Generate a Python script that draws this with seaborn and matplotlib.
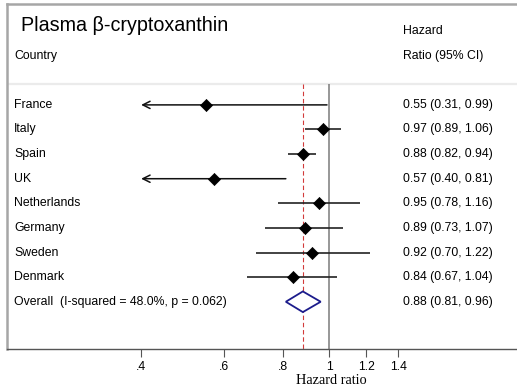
import numpy as np
import pandas as pd
import matplotlib
matplotlib.use("Agg")
import matplotlib.pyplot as plt
import seaborn as sns

# Country-specific hazard ratios with 95% confidence intervals
countries = ["France", "Italy", "Spain", "UK", "Netherlands", "Germany", "Sweden", "Denmark"]
hr = [0.55, 0.97, 0.88, 0.57, 0.95, 0.89, 0.92, 0.84]
ci_low = [0.31, 0.89, 0.82, 0.40, 0.78, 0.73, 0.70, 0.67]
ci_high = [0.99, 1.06, 0.94, 0.81, 1.16, 1.07, 1.22, 1.04]

# Pooled estimate
overall_label = "Overall  (I-squared = 48.0%, p = 0.062)"
overall_hr = 0.88
overall_low = 0.81
overall_high = 0.96

xticks = [0.4, 0.6, 0.8, 1.0, 1.2, 1.4]
xtick_labels = [".4", ".6", ".8", "1", "1.2", "1.4"]
x_min_shown = 0.4

sns.set_theme(style="white")
plt.rcParams["font.family"] = ["Liberation Sans", "DejaVu Sans"]
plt.rcParams["text.color"] = "black"
plt.rcParams["xtick.color"] = "#555555"
plt.rcParams["xtick.labelcolor"] = "black"

W, H = 517, 385
fig = plt.figure(figsize=(W / 100, H / 100), dpi=100)
ax = fig.add_axes([7 / W, (H - 349) / H, (W - 7) / W, (349 - 4) / H])
ax.set_xscale("log")
ax.set_xlim(0.208, 2.50)
y_bottom, y_upper = 9.92, -4.10
ax.set_ylim(y_bottom, y_upper)

df = pd.DataFrame({"country": countries, "hr": hr, "low": ci_low, "high": ci_high})
df["row"] = np.arange(len(df))
n = len(df)

y_sep = -0.85
# reference line at no effect and dashed line at the pooled estimate
ax.vlines(1.0, y_sep, y_bottom, color="#7a7a7a", lw=1.1, zorder=1)
ax.vlines(overall_hr, y_sep, y_bottom, color="#d23a3a", lw=0.8, linestyles=(0, (4, 2.5)), zorder=1)
ax.hlines(y_sep, 0.208, 2.50, color="#ebebeb", lw=1.6, zorder=0)

# confidence intervals, clipped at the axis minimum with an arrow
for _, r in df.iterrows():
    if r["low"] <= x_min_shown:
        ax.annotate("", xy=(x_min_shown, r["row"]), xytext=(r["high"], r["row"]),
                    arrowprops=dict(arrowstyle="->", lw=1.1, color="#111111",
                                    shrinkA=0, shrinkB=0, mutation_scale=13))
    else:
        ax.hlines(r["row"], r["low"], r["high"], color="#222222", lw=1.2, zorder=2)

sns.scatterplot(data=df, x="hr", y="row", marker="D", s=38, color="black",
                edgecolor="black", linewidth=0.5, ax=ax, zorder=3, legend=False)

# pooled diamond
yo = n
diamond = plt.Polygon([[overall_low, yo], [overall_hr, yo - 0.42],
                       [overall_high, yo], [overall_hr, yo + 0.42]],
                      closed=True, facecolor="white", edgecolor="#1c1c8c", lw=1.3, zorder=3)
ax.add_patch(diamond)

# text columns
tr = ax.get_yaxis_transform()
x_left = (14 - 7) / (W - 7)
x_right = (403 - 7) / (W - 7)
fs = 8.8
for _, r in df.iterrows():
    ax.text(x_left, r["row"], r["country"], transform=tr, ha="left", va="center", fontsize=fs)
    ax.text(x_right, r["row"], f"{r['hr']:.2f} ({r['low']:.2f}, {r['high']:.2f})",
            transform=tr, ha="left", va="center", fontsize=fs)
ax.text(x_left, yo, overall_label, transform=tr, ha="left", va="center", fontsize=fs)
ax.text(x_right, yo, f"{overall_hr:.2f} ({overall_low:.2f}, {overall_high:.2f})",
        transform=tr, ha="left", va="center", fontsize=fs)

ax.text((21 - 7) / (W - 7), -3.22, "Plasma β-cryptoxanthin", transform=tr,
        ha="left", va="center", fontsize=14.2)
ax.text(x_left, -2.0, "Country", transform=tr, ha="left", va="center", fontsize=8.8)
ax.text(x_right, -3.0, "Hazard", transform=tr, ha="left", va="center", fontsize=8.8)
ax.text(x_right, -2.0, "Ratio (95% CI)", transform=tr, ha="left", va="center", fontsize=8.8)

# axis styling
ax.set_xticks(xticks)
ax.set_xticklabels(xtick_labels)
ax.xaxis.set_minor_locator(matplotlib.ticker.NullLocator())
ax.set_yticks([])
ax.set_xlabel("")
ax.set_ylabel("")
ax.tick_params(axis="x", direction="out", length=5.5, width=0.8,
               pad=3.5, labelsize=8.8, bottom=True)
for side in ["top", "left"]:
    ax.spines[side].set_color("#a6a6a6")
    ax.spines[side].set_linewidth(1.8)
ax.spines["right"].set_visible(False)
ax.spines["bottom"].set_color("#555555")
ax.spines["bottom"].set_linewidth(1.0)

fig.text(331 / W, 1 - 380 / H, "Hazard ratio", ha="center", va="center",
         fontsize=10.3, family=["Liberation Serif", "DejaVu Serif"])

fig.savefig("out.png", dpi=100, facecolor="white")
